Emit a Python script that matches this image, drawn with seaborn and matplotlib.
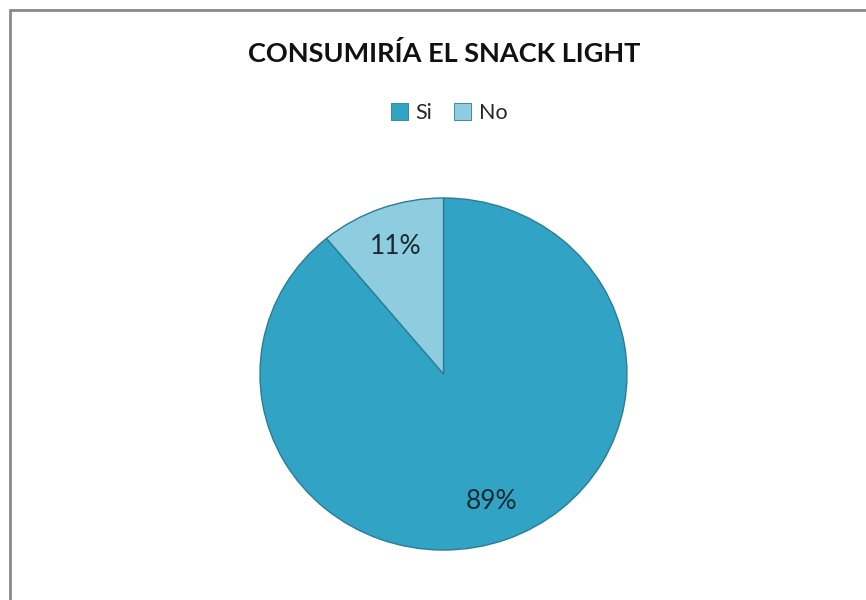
import matplotlib
matplotlib.use("Agg")
import matplotlib.pyplot as plt
from matplotlib.lines import Line2D
from matplotlib.patches import Patch
import seaborn as sns

# data
categories = ["Si", "No"]
shares = [89, 11]
title = "CONSUMIRÍA EL SNACK LIGHT"

slice_colors = ["#31A4C5", "#8ECCE0"]
edge_color = "#2B7C94"

sns.set_theme(style="white")
plt.rcParams["font.family"] = ["Lato", "DejaVu Sans"]

fig = plt.figure(figsize=(8.66, 6), dpi=100)
fig.patch.set_facecolor("white")

# pie area: centre about (443, 374) px, a touch wider than tall like the source
ax = fig.add_axes([0.3002, 0.0833, 0.4238, 0.5867])
wedges, texts, autotexts = ax.pie(
    shares,
    colors=slice_colors,
    startangle=90,
    counterclock=False,
    autopct="%1.0f%%",
    pctdistance=0.77,
    wedgeprops=dict(edgecolor=edge_color, linewidth=1.0),
    textprops=dict(fontsize=19, color="#1a2a33"),
)
ax.set_xlim(-1.0, 1.0)
ax.set_ylim(-1.0, 1.0)
ax.set_aspect("auto")
ax.axis("off")

fig.text(0.5127, 0.910, title, ha="center", va="center",
         fontsize=19.5, fontweight="bold", color="#111111")

handles = [Patch(facecolor=c, edgecolor=edge_color, linewidth=0.6) for c in slice_colors]
fig.legend(handles, categories, loc="center", bbox_to_anchor=(0.5185, 0.812),
           ncol=2, frameon=False, fontsize=15.5, handlelength=0.8, handleheight=0.8,
           handletextpad=0.35, columnspacing=1.0)

# chart frame (only left and top edges fall inside the picture)
frame_kw = dict(color="#8a8a8a", linewidth=2.0, transform=fig.transFigure)
fig.add_artist(Line2D([9.5 / 866, 9.5 / 866], [0, 1 - 9.5 / 600], **frame_kw))
fig.add_artist(Line2D([9.5 / 866, 1], [1 - 9.5 / 600, 1 - 9.5 / 600], **frame_kw))

fig.savefig("out.png", dpi=100, facecolor="white")
